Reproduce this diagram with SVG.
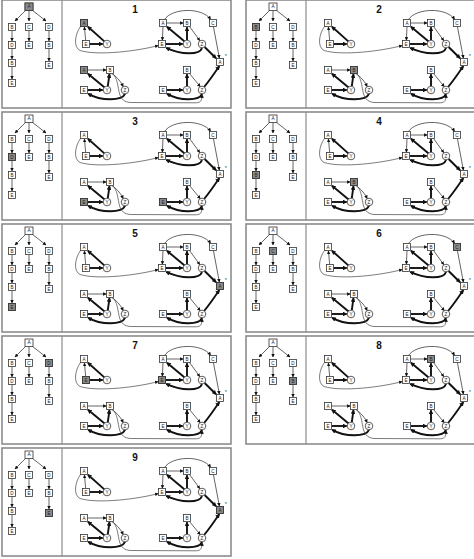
<svg xmlns="http://www.w3.org/2000/svg" xmlns:xlink="http://www.w3.org/1999/xlink" width="474" height="559" viewBox="0 0 474 559">
<style>
.frame{fill:#fff;stroke:#8c8c8c;stroke-width:1.6}
.div{stroke:#8c8c8c;stroke-width:1.2}
.sq{fill:#fff;stroke:#333;stroke-width:0.8}
.ci{fill:#fff;stroke:#333;stroke-width:0.8}
.hl{fill:#8a8a8a;stroke:#333;stroke-width:0.8}
.lb{font-family:"Liberation Sans",Arial,sans-serif;font-size:4.6px;text-anchor:middle;fill:#222}
.tt{font-family:"Liberation Sans",Arial,sans-serif;font-size:10px;font-weight:bold;text-anchor:middle;fill:#111}
.thin{fill:none;stroke:#222;stroke-width:0.7;marker-end:url(#ah)}
.thick{fill:none;stroke:#111;stroke-width:1.9;marker-end:url(#ahb)}
.curve{fill:none;stroke:#444;stroke-width:0.7}
</style>
<defs>
<marker id="ah" viewBox="0 0 10 10" refX="9" refY="5" markerWidth="3.6" markerHeight="3.6" markerUnits="userSpaceOnUse" orient="auto"><path d="M0,0 L10,5 L0,10z" fill="#111"/></marker>
<marker id="ahb" viewBox="0 0 10 10" refX="8" refY="5" markerWidth="4.6" markerHeight="4.6" markerUnits="userSpaceOnUse" orient="auto"><path d="M0,0 L10,5 L0,10z" fill="#111"/></marker>
<g id="tree">
<g id="tree-edges">
<path class="thin" d="M26,10 L15,21"/>
<path class="thin" d="M29,10.5 L29,21"/>
<path class="thin" d="M32,10 L46,21"/>
<path class="thin" d="M12,30.5 L12,41"/>
<path class="thin" d="M12,48.5 L12,59"/>
<path class="thin" d="M12,66.5 L12,79"/>
<path class="thin" d="M29,30.5 L29,41"/>
<path class="thin" d="M49,30.5 L49,41"/>
<path class="thin" d="M49,48.5 L49,61"/>
</g>
<g id="t0"><rect class="sq" x="25" y="3" width="8" height="7.5"/><text class="lb" x="29" y="8.4">A</text></g>
<g id="t1"><rect class="sq" x="8.5" y="23.5" width="7" height="7"/><text class="lb" x="12" y="28.6">B</text></g>
<g id="t2"><rect class="sq" x="25.5" y="23.5" width="7" height="7"/><text class="lb" x="29" y="28.6">C</text></g>
<g id="t3"><rect class="sq" x="45.5" y="23.5" width="7" height="7"/><text class="lb" x="49" y="28.6">D</text></g>
<g id="t4"><rect class="sq" x="8.5" y="41.5" width="7" height="7"/><text class="lb" x="12" y="46.6">D</text></g>
<g id="t5"><rect class="sq" x="8.5" y="59.5" width="7" height="7"/><text class="lb" x="12" y="64.6">B</text></g>
<g id="t6"><rect class="sq" x="8.5" y="79.5" width="7" height="7"/><text class="lb" x="12" y="84.6">E</text></g>
<g id="t7"><rect class="sq" x="25.5" y="41.5" width="7" height="7"/><text class="lb" x="29" y="46.6">E</text></g>
<g id="t8"><rect class="sq" x="45.5" y="41.5" width="7" height="7"/><text class="lb" x="49" y="46.6">B</text></g>
<g id="t9"><rect class="sq" x="45.5" y="61.5" width="7" height="7"/><text class="lb" x="49" y="66.6">E</text></g>
</g>
<g id="graph">
<g id="graph-edges">
<path class="thin" d="M85.7,40.3 L84.4,27"/>
<path class="thick" d="M104.6,41.6 L88,26.8"/>
<path class="thick" d="M89.5,44 L102.6,44"/>
<path class="curve" marker-end="url(#ah)" d="M80.5,26.5 C75,34 73,47 80,50.5 C98,56 138,51 158.3,45.5"/>
<path class="thin" d="M166.5,23 L183.3,23"/>
<path class="thin" d="M163,26.5 L162.4,40.3"/>
<path class="thick" d="M184.6,41.6 L167,26.8"/>
<path class="thick" d="M187,40 L187,27.3"/>
<path class="thin" d="M189.5,26.5 L199.8,40.6"/>
<path class="thick" d="M165.5,44 L182.6,44"/>
<path class="thick" d="M202,47.9 C200,55 181,55 166.3,47.8"/>
<path class="thick" d="M204.6,47 L216,58.2"/>
<path class="thin" d="M164.5,19.5 C172,8 202,7 210.6,19.3"/>
<path class="thin" d="M213.4,26.5 L219.4,58.2"/>
<path class="thick" d="M204,87 C210,80 215,72 219.3,66.3"/>
<path class="thin" d="M87.5,70 L106.3,70"/>
<path class="thick" d="M104.6,87.6 L88,73.8"/>
<path class="thick" d="M107.8,86.2 L109.5,74.2"/>
<path class="thin" d="M112,73.5 C118,78 121,82 123.2,86.6"/>
<path class="thick" d="M87.5,90 L102.6,90"/>
<path class="thick" d="M125,93.9 C122,101 101,101 88.2,93.8"/>
<path class="curve" marker-end="url(#ah)" d="M112.5,73.8 C122,82 114,101 130,102.5 L196,102.8 C201.5,102.8 202.2,99 202,94.6"/>
<path class="thick" d="M166.5,90 L182.6,90"/>
<path class="thick" d="M187,86 L187,74.3"/>
<path class="thin" d="M189.5,73.5 L200.3,86.7"/>
<path class="thick" d="M202,93.9 C199.5,101 180,101 167,93.8"/>
</g>
<g id="g1A"><rect class="sq" x="80.5" y="19.5" width="7" height="7"/><text class="lb" x="84" y="24.6">A</text></g>
<g id="g1E"><rect class="sq" x="82.5" y="40.5" width="7" height="7"/><text class="lb" x="86" y="45.6">E</text></g>
<g id="g1Y"><circle class="ci" cx="107" cy="44" r="3.8"/><text class="lb" x="107" y="45.6">Y</text></g>
<g id="g2A"><rect class="sq" x="159.5" y="19.5" width="7" height="7"/><text class="lb" x="163" y="24.6">A</text></g>
<g id="g2B"><rect class="sq" x="183.5" y="19.5" width="7" height="7"/><text class="lb" x="187" y="24.6">B</text></g>
<g id="g2C"><rect class="sq" x="209.5" y="19.5" width="7" height="7"/><text class="lb" x="213" y="24.6">C</text></g>
<g id="g2E"><rect class="sq" x="158.5" y="40.5" width="7" height="7"/><text class="lb" x="162" y="45.6">E</text></g>
<g id="g2Y"><circle class="ci" cx="187" cy="44" r="3.8"/><text class="lb" x="187" y="45.6">Y</text></g>
<g id="g2Z"><circle class="ci" cx="202" cy="44" r="3.8"/><text class="lb" x="202" y="45.6">Z</text></g>
<g id="gAs"><rect class="sq" x="216.5" y="58.5" width="7" height="7"/><text class="lb" x="220" y="63.6">A</text><text class="lb" x="226" y="58">*</text></g>
<g id="g3A"><rect class="sq" x="80.5" y="66.5" width="7" height="7"/><text class="lb" x="84" y="71.6">A</text></g>
<g id="g3B"><rect class="sq" x="106.5" y="66.5" width="7" height="7"/><text class="lb" x="110" y="71.6">B</text></g>
<g id="g3E"><rect class="sq" x="80.5" y="86.5" width="7" height="7"/><text class="lb" x="84" y="91.6">E</text></g>
<g id="g3Y"><circle class="ci" cx="107" cy="90" r="3.8"/><text class="lb" x="107" y="91.6">Y</text></g>
<g id="g3Z"><circle class="ci" cx="125" cy="90" r="3.8"/><text class="lb" x="125" y="91.6">Z</text></g>
<g id="g4B"><rect class="sq" x="183.5" y="66.5" width="7" height="7"/><text class="lb" x="187" y="71.6">B</text></g>
<g id="g4E"><rect class="sq" x="159.5" y="86.5" width="7" height="7"/><text class="lb" x="163" y="91.6">E</text></g>
<g id="g4Y"><circle class="ci" cx="187" cy="90" r="3.8"/><text class="lb" x="187" y="91.6">Y</text></g>
<g id="g4Z"><circle class="ci" cx="202" cy="90" r="3.8"/><text class="lb" x="202" y="91.6">Z</text></g>
</g>
<g id="panelbase">
<rect class="frame" x="2" y="0" width="229" height="108"/>
<line class="div" x1="62" y1="0" x2="62" y2="108"/>
<use xlink:href="#tree"/>
<use xlink:href="#graph"/>
</g>
</defs>

<g id="panel1">
<use xlink:href="#panelbase"/>
<text class="tt" x="135" y="13">1</text>
<g id="p1-t0"><rect class="hl" x="25" y="3" width="8" height="7.5"/><text class="lb" x="29" y="8.4">A</text></g>
<g id="p1-g1A"><rect class="hl" x="80.5" y="19.5" width="7" height="7"/><text class="lb" x="84" y="24.6">A</text></g>
<g id="p1-g3A"><rect class="hl" x="80.5" y="66.5" width="7" height="7"/><text class="lb" x="84" y="71.6">A</text></g>
</g>

<g id="panel2" transform="translate(244,0)">
<use xlink:href="#panelbase"/>
<text class="tt" x="135" y="13">2</text>
<g id="p2-t1"><rect class="hl" x="8.5" y="23.5" width="7" height="7"/><text class="lb" x="12" y="28.6">B</text></g>
<g id="p2-g3B"><rect class="hl" x="106.5" y="66.5" width="7" height="7"/><text class="lb" x="110" y="71.6">B</text></g>
</g>

<g id="panel3" transform="translate(0,112)">
<use xlink:href="#panelbase"/>
<text class="tt" x="135" y="13">3</text>
<g id="p3-t4"><rect class="hl" x="8.5" y="41.5" width="7" height="7"/><text class="lb" x="12" y="46.6">D</text></g>
<g id="p3-g3E"><rect class="hl" x="80.5" y="86.5" width="7" height="7"/><text class="lb" x="84" y="91.6">E</text></g>
<g id="p3-g4E"><rect class="hl" x="159.5" y="86.5" width="7" height="7"/><text class="lb" x="163" y="91.6">E</text></g>
</g>

<g id="panel4" transform="translate(244,112)">
<use xlink:href="#panelbase"/>
<text class="tt" x="135" y="13">4</text>
<g id="p4-t5"><rect class="hl" x="8.5" y="59.5" width="7" height="7"/><text class="lb" x="12" y="64.6">B</text></g>
<g id="p4-g3B"><rect class="hl" x="106.5" y="66.5" width="7" height="7"/><text class="lb" x="110" y="71.6">B</text></g>
</g>

<g id="panel5" transform="translate(0,224)">
<use xlink:href="#panelbase"/>
<text class="tt" x="135" y="13">5</text>
<g id="p5-t6"><rect class="hl" x="8.5" y="79.5" width="7" height="7"/><text class="lb" x="12" y="84.6">E</text></g>
<g id="p5-gAs"><rect class="hl" x="216.5" y="58.5" width="7" height="7"/><text class="lb" x="220" y="63.6">A</text></g>
</g>

<g id="panel6" transform="translate(244,224)">
<use xlink:href="#panelbase"/>
<text class="tt" x="135" y="13">6</text>
<g id="p6-t2"><rect class="hl" x="25.5" y="23.5" width="7" height="7"/><text class="lb" x="29" y="28.6">C</text></g>
<g id="p6-g2C"><rect class="hl" x="209.5" y="19.5" width="7" height="7"/><text class="lb" x="213" y="24.6">C</text></g>
</g>

<g id="panel7" transform="translate(0,336)">
<use xlink:href="#panelbase"/>
<text class="tt" x="135" y="13">7</text>
<g id="p7-t3"><rect class="hl" x="45.5" y="23.5" width="7" height="7"/><text class="lb" x="49" y="28.6">D</text></g>
<g id="p7-g1E"><rect class="hl" x="82.5" y="40.5" width="7" height="7"/><text class="lb" x="86" y="45.6">E</text></g>
<g id="p7-g2E"><rect class="hl" x="158.5" y="40.5" width="7" height="7"/><text class="lb" x="162" y="45.6">E</text></g>
</g>

<g id="panel8" transform="translate(244,336)">
<use xlink:href="#panelbase"/>
<text class="tt" x="135" y="13">8</text>
<g id="p8-t8"><rect class="hl" x="45.5" y="41.5" width="7" height="7"/><text class="lb" x="49" y="46.6">B</text></g>
<g id="p8-g2B"><rect class="hl" x="183.5" y="19.5" width="7" height="7"/><text class="lb" x="187" y="24.6">B</text></g>
</g>

<g id="panel9" transform="translate(0,448)">
<use xlink:href="#panelbase"/>
<text class="tt" x="135" y="13">9</text>
<g id="p9-t9"><rect class="hl" x="45.5" y="61.5" width="7" height="7"/><text class="lb" x="49" y="66.6">E</text></g>
<g id="p9-gAs"><rect class="hl" x="216.5" y="58.5" width="7" height="7"/><text class="lb" x="220" y="63.6">A</text></g>
</g>
</svg>
